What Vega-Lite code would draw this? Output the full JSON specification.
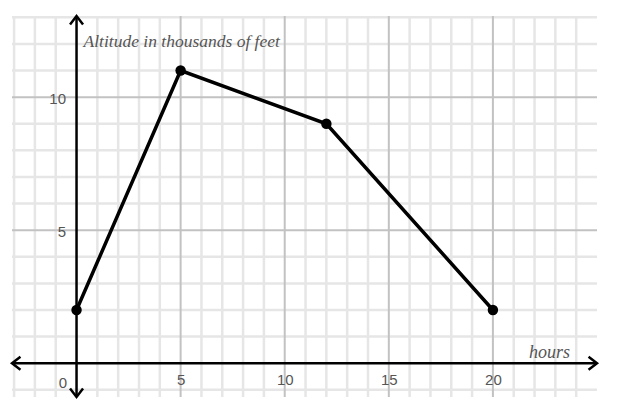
{
  "$schema": "https://vega.github.io/schema/vega-lite/v6.json",
  "width": 585,
  "height": 381,
  "autosize": {"type": "none"},
  "padding": {"left": 12, "top": 16, "right": 23, "bottom": 18},
  "background": "white",
  "config": {"view": {"stroke": null}},
  "layer": [
    {
      "data": {"values": [{"h": -3}, {"h": -2}, {"h": -1}, {"h": 1}, {"h": 2}, {"h": 3}, {"h": 4}, {"h": 6}, {"h": 7}, {"h": 8}, {"h": 9}, {"h": 11}, {"h": 12}, {"h": 13}, {"h": 14}, {"h": 16}, {"h": 17}, {"h": 18}, {"h": 19}, {"h": 21}, {"h": 22}, {"h": 23}, {"h": 24}]},
      "mark": {"type": "rule", "color": "#e6e6e6", "strokeWidth": 2.5},
      "encoding": {
        "x": {
          "field": "h", "type": "quantitative",
          "scale": {"domain": [-3.1, 25], "nice": false, "zero": false},
          "axis": {
            "values": [0, 5, 10, 15, 20],
            "domain": false, "ticks": false, "grid": false, "zindex": 1,
            "offset": -33.8,
            "labelPadding": {"condition": {"test": "datum.value == 0", "value": 12}, "value": 9},
            "labelOffset": {"condition": {"test": "datum.value == 0", "value": -14}, "value": 0},
            "labelColor": "#555555", "labelFont": "Liberation Sans", "labelFontSize": 15,
            "title": "hours", "titleFont": "Liberation Serif", "titleFontStyle": "italic", "titleFontWeight": "normal",
            "titleFontSize": 18, "titleColor": "#555555",
            "titleX": 537, "titleY": -6, "titleAlign": "center", "titleBaseline": "alphabetic"
          }
        }
      }
    },
    {
      "data": {"values": [{"v": -1}, {"v": 1}, {"v": 2}, {"v": 3}, {"v": 4}, {"v": 6}, {"v": 7}, {"v": 8}, {"v": 9}, {"v": 11}, {"v": 12}, {"v": 13}]},
      "mark": {"type": "rule", "color": "#e6e6e6", "strokeWidth": 2.5},
      "encoding": {
        "y": {
          "field": "v", "type": "quantitative",
          "scale": {"domain": [-1.27, 13.05], "nice": false, "zero": false},
          "axis": {
            "values": [5, 10],
            "domain": false, "ticks": false, "grid": false, "zindex": 1,
            "offset": -64.5,
            "labelPadding": 11, "labelBaseline": "middle", "labelOffset": 1,
            "labelColor": "#555555", "labelFont": "Liberation Sans", "labelFontSize": 15,
            "title": "Altitude in thousands of feet", "titleFont": "Liberation Serif", "titleFontStyle": "italic", "titleFontWeight": "normal",
            "titleFontSize": 17.5, "titleColor": "#555555", "titleAngle": 0,
            "titleX": 6.5, "titleY": 30, "titleAlign": "left", "titleBaseline": "alphabetic"
          }
        }
      }
    },
    {
      "data": {"values": [{"h": 5}, {"h": 10}, {"h": 15}, {"h": 20}]},
      "mark": {"type": "rule", "color": "#c2c2c2", "strokeWidth": 2},
      "encoding": {"x": {"field": "h", "type": "quantitative"}}
    },
    {
      "data": {"values": [{"v": 5}, {"v": 10}]},
      "mark": {"type": "rule", "color": "#c2c2c2", "strokeWidth": 2},
      "encoding": {"y": {"field": "v", "type": "quantitative"}}
    },
    {
      "data": {"values": [{}]},
      "mark": {"type": "rule", "color": "black", "strokeWidth": 2.5},
      "encoding": {"y": {"datum": 0, "type": "quantitative"}}
    },
    {
      "data": {"values": [{}]},
      "mark": {"type": "rule", "color": "black", "strokeWidth": 2.5},
      "encoding": {"x": {"datum": 0, "type": "quantitative"}}
    },
    {
      "data": {"values": [{}]},
      "mark": {"type": "point", "shape": "M1.3,-1L0,0L1.3,1", "size": 169, "filled": false, "color": "black", "strokeWidth": 2.5, "opacity": 1},
      "encoding": {"x": {"datum": -3.1, "type": "quantitative"}, "y": {"datum": 0, "type": "quantitative"}}
    },
    {
      "data": {"values": [{}]},
      "mark": {"type": "point", "shape": "M-1.3,-1L0,0L-1.3,1", "size": 169, "filled": false, "color": "black", "strokeWidth": 2.5, "opacity": 1},
      "encoding": {"x": {"datum": 25, "type": "quantitative"}, "y": {"datum": 0, "type": "quantitative"}}
    },
    {
      "data": {"values": [{}]},
      "mark": {"type": "point", "shape": "M-1,1.3L0,0L1,1.3", "size": 169, "filled": false, "color": "black", "strokeWidth": 2.5, "opacity": 1},
      "encoding": {"x": {"datum": 0, "type": "quantitative"}, "y": {"datum": 13.05, "type": "quantitative"}}
    },
    {
      "data": {"values": [{}]},
      "mark": {"type": "point", "shape": "M-1,-1.3L0,0L1,-1.3", "size": 169, "filled": false, "color": "black", "strokeWidth": 2.5, "opacity": 1},
      "encoding": {"x": {"datum": 0, "type": "quantitative"}, "y": {"datum": -1.27, "type": "quantitative"}}
    },
    {
      "data": {"values": [{"h": 0, "v": 2}, {"h": 5, "v": 11}, {"h": 12, "v": 9}, {"h": 20, "v": 2}]},
      "mark": {"type": "line", "color": "black", "strokeWidth": 3.5, "point": {"filled": true, "size": 110, "color": "black", "opacity": 1}},
      "encoding": {
        "x": {"field": "h", "type": "quantitative"},
        "y": {"field": "v", "type": "quantitative"}
      }
    }
  ]
}
